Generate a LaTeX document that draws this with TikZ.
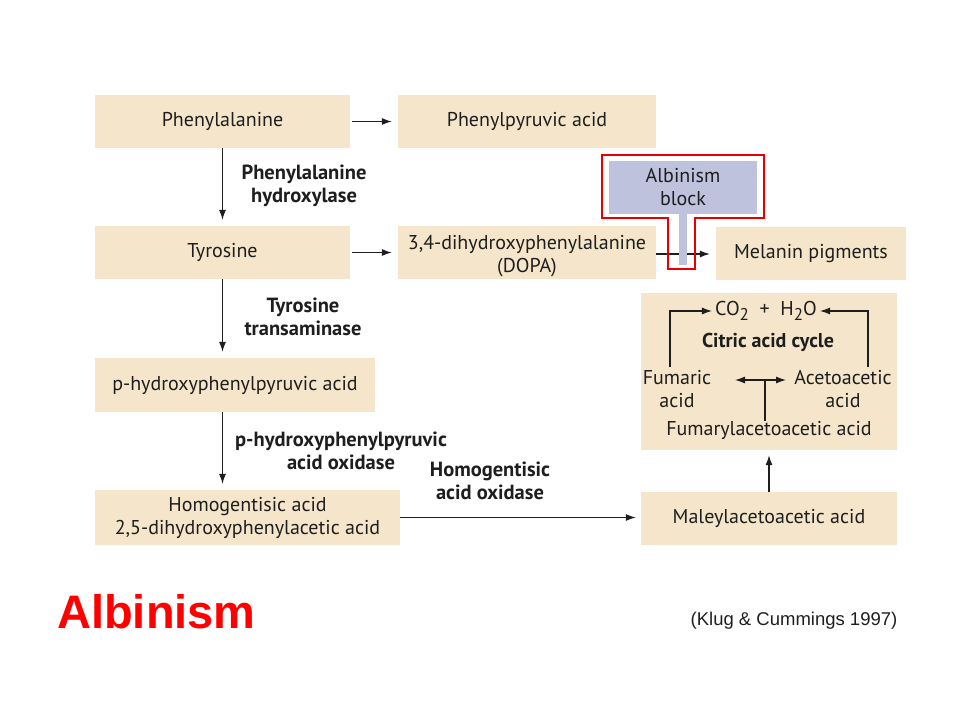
\documentclass[tikz,border=0pt]{standalone}
\usepackage{fontspec}
\setmainfont{PT Sans}
\newfontfamily\arialfont{Liberation Sans}
\usetikzlibrary{arrows.meta}
\definecolor{boxfill}{RGB}{245,230,203}
\definecolor{blockfill}{RGB}{190,194,220}
\definecolor{ink}{RGB}{30,30,30}
\definecolor{redline}{RGB}{232,0,0}
\begin{document}
\begin{tikzpicture}[x=1pt,y=-1pt,
  box/.style={fill=boxfill, inner sep=0pt, align=center, text=ink, font=\fontsize{20}{23}\selectfont},
  lbl/.style={align=center, text=ink, inner sep=0pt, font=\fontsize{20.5}{23}\selectfont\bfseries},
  txt/.style={align=center, text=ink, inner sep=0pt, font=\fontsize{20}{23}\selectfont},
  tip/.tip={Latex[length=10pt,width=7pt]},
  arr/.style={draw=ink, line width=1.1pt, -tip},
  plain/.style={draw=ink, line width=1.1pt},
  ]
\useasboundingbox (0,0) rectangle (960,720);
% boxes
\node[box, minimum width=255pt, minimum height=53pt] (phe) at (222.5,121.5) {Phenylalanine};
\node[box, minimum width=258pt, minimum height=53pt] (ppa) at (527,121.5) {Phenylpyruvic acid};
\node[box, minimum width=255pt, minimum height=53pt] (tyr) at (222.5,252.5) {Tyrosine};
\node[box, minimum width=258pt, minimum height=53pt] (dopa) at (527,252.5) {};
\node[txt] (dopatext) at (527,256) {3,4-dihydroxyphenylalanine\\(DOPA)};
\node[box, minimum width=190pt, minimum height=53pt] (mel) at (811,253.5) {Melanin pigments};
\node[box, minimum width=256pt, minimum height=157pt] (cit) at (769,371.5) {};
\node[box, minimum width=280pt, minimum height=54pt] (php) at (235,385) {p-hydroxyphenylpyruvic acid};
\node[box, minimum width=305pt, minimum height=55pt] (hga) at (247.5,517.5) {Homogentisic acid\\2,5-dihydroxyphenylacetic acid};
\node[box, minimum width=256pt, minimum height=53pt] (mal) at (769,518.5) {Maleylacetoacetic acid};
% enzyme labels
\node[lbl] (e1) at (304,186) {Phenylalanine\\hydroxylase};
\node[lbl] (e2) at (303,317) {Tyrosine\\transaminase};
\node[lbl] (e3) at (341,451) {p-hydroxyphenylpyruvic\\acid oxidase};
\node[lbl] (e4) at (490,481) {Homogentisic\\acid oxidase};
% main arrows
\draw[arr, shorten <=2pt, shorten >=6pt] (phe.east) -- (ppa.west);
\draw[arr, shorten <=2pt, shorten >=6pt] (tyr.east) -- (dopa.west);
\draw[arr, shorten >=6pt] (phe.south) -- (tyr.north);
\draw[arr, shorten >=6pt] (tyr.south) -- (tyr.south |- php.north);
\draw[arr, shorten >=6pt] (tyr.south |- php.south) -- (tyr.south |- hga.north);
\draw[arr, shorten >=5pt] (hga.east) -- (hga.east -| mal.west);
\draw[arr, shorten >=5pt] (mal.north) -- (cit.south);
\coordinate (dopaout) at (656,254);
\draw[arr, shorten >=6pt] (dopaout) -- (dopaout -| mel.west);
% citric acid cycle contents
\node[txt] (co2) at (766,311) {CO\raisebox{-0.55ex}{\fontsize{17}{18}\selectfont 2} \ + \ H\raisebox{-0.55ex}{\fontsize{17}{18}\selectfont 2}O};
\node[lbl, font=\fontsize{20}{23}\selectfont\bfseries] (cac) at (768,342) {Citric acid cycle};
\node[txt] (fum) at (677,389) {Fumaric\\acid};
\node[txt] (aceto) at (843,389) {Acetoacetic\\acid};
\node[txt] (fumac) at (769,430) {Fumarylacetoacetic acid};
\coordinate (lup) at (670,367);
\coordinate (rup) at (868,367);
\draw[arr, shorten >=3pt] (lup) |- (co2.west);
\draw[arr, shorten >=3pt] (rup) |- (co2.east);
\coordinate (dl) at (735,380);
\coordinate (dr) at (786,380);
\coordinate (jn) at (765,380);
\draw[draw=ink, line width=1.1pt, tip-tip] (dl) -- (dr);
\draw[plain] (jn) -- (jn |- fumac.north);
% albinism block
\fill[blockfill] (679,212) rectangle (687,265);
\node[fill=blockfill, minimum width=148pt, minimum height=53pt, inner sep=0pt, align=center, text=ink, font=\fontsize{20}{23}\selectfont] (ab) at (683,187.5) {Albinism\\block};
\draw[redline, line width=2.8pt, line join=miter] (602,155) -- (764,155) -- (764,218) -- (695,218) -- (695,269) -- (668,269) -- (668,218) -- (602,218) -- cycle;
% titles
\node[text=red, inner sep=0pt, font=\arialfont\bfseries\fontsize{47}{50}\selectfont] (title) at (156.5,612) {Albinism};
\node[text=ink, inner sep=0pt, font=\arialfont\fontsize{18.5}{20}\selectfont] (cred) at (794,621) {(Klug \& Cummings 1997)};
\end{tikzpicture}
\end{document}
